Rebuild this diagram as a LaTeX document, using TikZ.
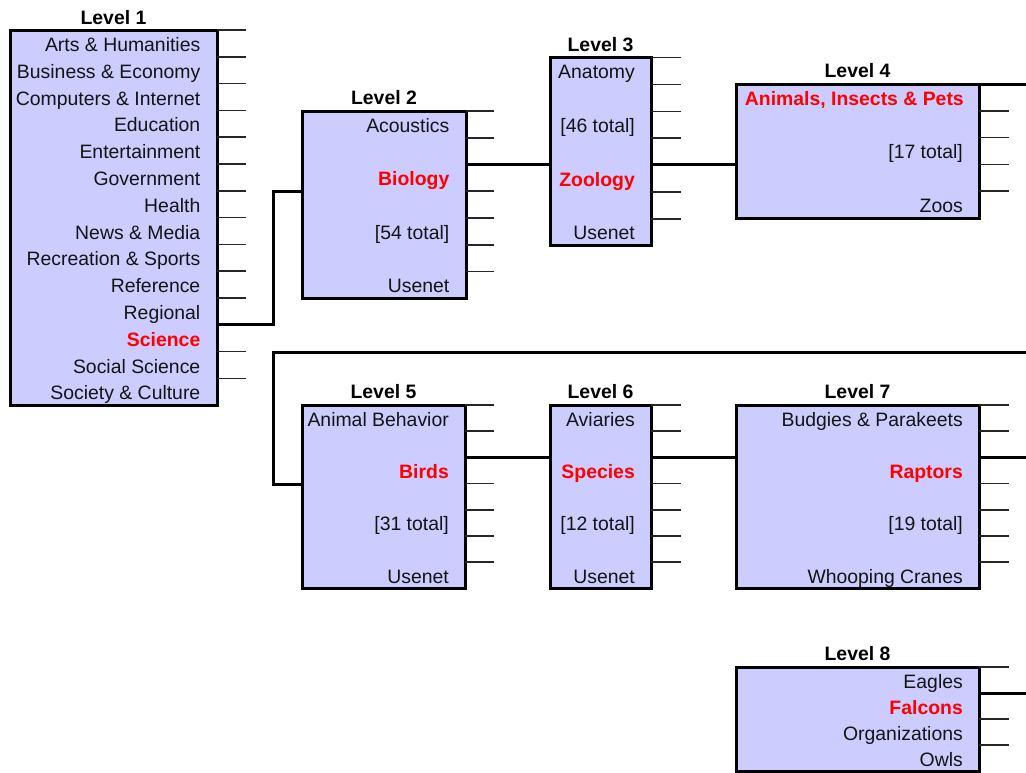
\documentclass[tikz,border=0pt]{standalone}
\usepackage{fontspec}
\setmainfont{Liberation Sans}
\usetikzlibrary{calc}
\definecolor{boxfill}{RGB}{204,204,255}
\definecolor{selred}{RGB}{255,0,0}
\definecolor{txt}{RGB}{20,20,20}
\begin{document}
\begin{tikzpicture}[x=1pt,y=-1pt,
  lvlbox/.style={draw=black, line width=3pt, fill=boxfill, rectangle, anchor=north west, inner sep=0pt, outer sep=0pt},
  item/.style={anchor=base east, inner sep=0pt, text=txt, font=\fontsize{19.4}{24}\selectfont},
  sel/.style={anchor=base east, inner sep=0pt, text=selred, font=\fontsize{19.4}{24}\selectfont\bfseries},
  lvltitle/.style={anchor=base, inner sep=0pt, font=\fontsize{19.4}{24}\selectfont\bfseries},
  stub/.style={line width=1.6pt, draw=black!85},
  link/.style={line width=3pt, draw=black},
]
\useasboundingbox[fill=white] (0,0) rectangle (1026,772);

% ---------- boxes ----------
\node[lvlbox, minimum width=207pt, minimum height=375pt] (L1) at (10,30) {};
\node[lvlbox, minimum width=164pt, minimum height=187.25pt] (L2) at (302,111) {};
\node[lvlbox, minimum width=101pt, minimum height=188.3pt] (L3) at (550,57.5) {};
\node[lvlbox, minimum width=243pt, minimum height=134pt] (L4) at (736,84) {};
\node[lvlbox, minimum width=163pt, minimum height=183.4pt] (L5) at (302,405) {};
\node[lvlbox, minimum width=101pt, minimum height=183.4pt] (L6) at (550,405) {};
\node[lvlbox, minimum width=243pt, minimum height=183.4pt] (L7) at (736,405) {};
\node[lvlbox, minimum width=243pt, minimum height=104pt] (L8) at (736,667) {};

% ---------- titles ----------
\node[lvltitle] (T1) at (113.5,24) {Level 1};
\node[lvltitle] (T2) at (384,104.5) {Level 2};
\node[lvltitle] (T3) at (600.5,51) {Level 3};
\node[lvltitle] (T4) at (857.5,77.5) {Level 4};
\node[lvltitle] (T5) at (383.5,398.5) {Level 5};
\node[lvltitle] (T6) at (600.5,398.5) {Level 6};
\node[lvltitle] (T7) at (857.5,398.5) {Level 7};
\node[lvltitle] (T8) at (857.5,660.5) {Level 8};

% ---------- level 1 items ----------
\foreach \t/\s [count=\k from 0] in {Arts \& Humanities/item, Business \& Economy/item,
  Computers \& Internet/item, Education/item, Entertainment/item, Government/item,
  Health/item, News \& Media/item, Recreation \& Sports/item, Reference/item,
  Regional/item, Science/sel, Social Science/item, Society \& Culture/item}
  \node[\s] (L1i\k) at (200.5,{30+26.8*\k+21.5}) {\t};

% ---------- level 2 ----------
\node[item] (L2a) at (449.5,132.5) {Acoustics};
\node[sel]  (L2b) at (449.5,185.5) {Biology};
\node[item] (L2c) at (449.5,239) {[54 total]};
\node[item] (L2d) at (449.5,292.5) {Usenet};

% ---------- level 3 ----------
\node[item] (L3a) at (635,78.5) {Anatomy};
\node[item] (L3b) at (635,132.3) {[46 total]};
\node[sel]  (L3c) at (635,186.1) {Zoology};
\node[item] (L3d) at (635,239.9) {Usenet};

% ---------- level 4 ----------
\node[sel]  (L4a) at (964,105) {Animals, Insects \& Pets};
\node[item] (L4b) at (963,158.6) {[17 total]};
\node[item] (L4c) at (963,212.2) {Zoos};

% ---------- level 5 ----------
\node[item] (L5a) at (449,426) {Animal Behavior};
\node[sel]  (L5b) at (449,478.4) {Birds};
\node[item] (L5c) at (449,530.8) {[31 total]};
\node[item] (L5d) at (449,583) {Usenet};

% ---------- level 6 ----------
\node[item] (L6a) at (635,426) {Aviaries};
\node[sel]  (L6b) at (635,478.4) {Species};
\node[item] (L6c) at (635,530.8) {[12 total]};
\node[item] (L6d) at (635,583) {Usenet};

% ---------- level 7 ----------
\node[item] (L7a) at (963,426) {Budgies \& Parakeets};
\node[sel]  (L7b) at (963,478.4) {Raptors};
\node[item] (L7c) at (963,530.8) {[19 total]};
\node[item] (L7d) at (963,583) {Whooping Cranes};

% ---------- level 8 ----------
\node[item] (L8a) at (963,688) {Eagles};
\node[sel]  (L8b) at (963,714) {Falcons};
\node[item] (L8c) at (963,740) {Organizations};
\node[item] (L8d) at (963,766) {Owls};

% ---------- stubs ----------
\foreach \k in {0,...,10,12,13}
  \draw[stub] ($(L1.north east)+(0,26.8*\k)$) -- ++(29,0);
\foreach \k in {0,1,3,4,5,6}
  \draw[stub] ($(L2.north east)+(0,26.75*\k)$) -- ++(28,0);
\foreach \k in {0,1,2,3,5,6}
  \draw[stub] ($(L3.north east)+(0,26.9*\k)$) -- ++(30,0);
\foreach \k in {1,2,3,4}
  \draw[stub] ($(L4.north east)+(0,26.8*\k)$) -- ++(30,0);
\foreach \k in {0,1,3,4,5,6}
  \draw[stub] ($(L5.north east)+(0,26.2*\k)$) -- ++(29,0);
\foreach \k in {0,1,3,4,5,6}
  \draw[stub] ($(L6.north east)+(0,26.2*\k)$) -- ++(30,0);
\foreach \k in {0,1,3,4,5,6}
  \draw[stub] ($(L7.north east)+(0,26.2*\k)$) -- ++(30,0);
\foreach \k in {0,2,3}
  \draw[stub] ($(L8.north east)+(0,26*\k)$) -- ++(30,0);

% ---------- links ----------
\coordinate (edgeA) at (1026,84);
\coordinate (edgeB) at (1026,352);
\coordinate (turnB) at (273,352);
\coordinate (edgeC) at (1026,457.4);
\coordinate (edgeD) at (1026,693);

\draw[link] ($(L1.north east)+(0,294.8)$) -- ++(56,0) |- ($(L2.north west)+(0,80.25)$);
\draw[link] ($(L2.north east)+(0,53.5)$) coordinate (s23) -- (s23 -| L3.west);
\draw[link] ($(L3.north east)+(0,107.3)$) coordinate (s34) -- (s34 -| L4.west);
\draw[link] (L4.north east) -- (edgeA);
\draw[link] (edgeB) -- (turnB) |- ($(L5.north west)+(0,79.5)$);
\draw[link] ($(L5.north east)+(0,52.4)$) coordinate (s56) -- (s56 -| L6.west);
\draw[link] ($(L6.north east)+(0,52.4)$) coordinate (s67) -- (s67 -| L7.west);
\draw[link] ($(L7.north east)+(0,52.4)$) -- (edgeC);
\draw[link] ($(L8.north east)+(0,26)$) -- (edgeD);
\end{tikzpicture}
\end{document}
